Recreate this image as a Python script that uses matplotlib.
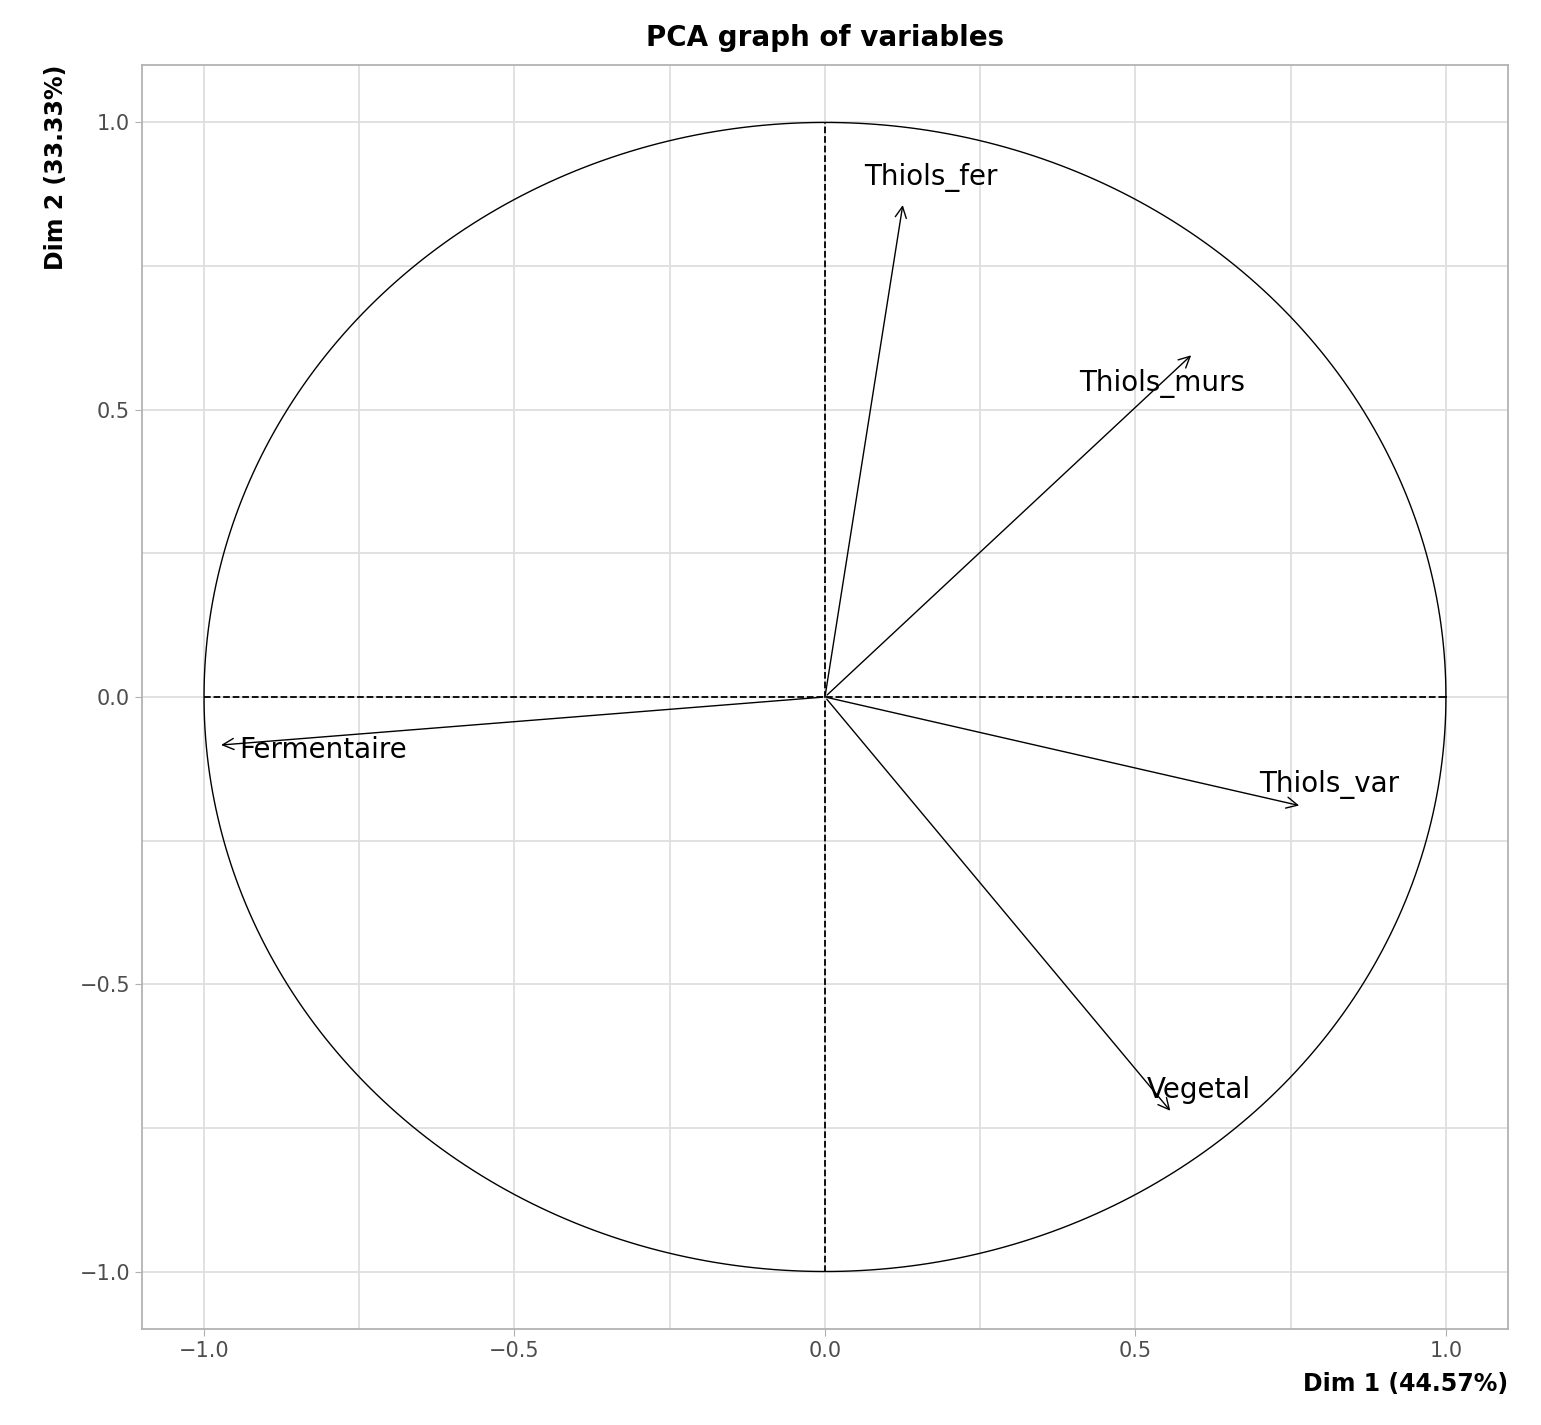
import numpy as np
import matplotlib.pyplot as plt

# variable coordinates on Dim 1 / Dim 2
variables = ["Thiols_fer", "Thiols_murs", "Thiols_var", "Vegetal", "Fermentaire"]
dim1 = [0.126, 0.593, 0.768, 0.559, -0.977]
dim2 = [0.861, 0.598, -0.190, -0.724, -0.084]
label_x = [0.171, 0.543, 0.812, 0.602, -0.808]
label_y = [0.905, 0.546, -0.152, -0.684, -0.092]

fig = plt.figure(figsize=(15.41, 14.25), dpi=100)
ax = fig.add_axes([0.0921, 0.0674, 0.8865, 0.887])

ax.set_xlim(-1.1, 1.1)
ax.set_ylim(-1.1, 1.1)
ax.set_xticks([-1.0, -0.5, 0.0, 0.5, 1.0])
ax.set_yticks([-1.0, -0.5, 0.0, 0.5, 1.0])
ax.set_xticks([-0.75, -0.25, 0.25, 0.75], minor=True)
ax.set_yticks([-0.75, -0.25, 0.25, 0.75], minor=True)
ax.grid(True, which="both", color="#dedede", linewidth=1.3)
ax.set_axisbelow(True)
ax.tick_params(which="minor", length=0)
ax.tick_params(which="major", colors="#b0b0b0", labelcolor="#4d4d4d", labelsize=15, length=5)
for s in ax.spines.values():
    s.set_color("#b3b3b3")
    s.set_linewidth(1.3)

t = np.linspace(0, 2 * np.pi, 400)
ax.plot(np.cos(t), np.sin(t), color="black", linewidth=1)
ax.plot([-1, 1], [0, 0], color="black", linestyle="--", linewidth=1.3)
ax.plot([0, 0], [-1, 1], color="black", linestyle="--", linewidth=1.3)

for name, x, y, lx, ly in zip(variables, dim1, dim2, label_x, label_y):
    ax.annotate("", xy=(x, y), xytext=(0, 0),
                arrowprops=dict(arrowstyle="->", color="black", lw=1, mutation_scale=20))
    ax.text(lx, ly, name, fontsize=20, ha="center", va="center")

ax.set_title("PCA graph of variables", fontsize=20, fontweight="bold", pad=14)
ax.set_xlabel("Dim 1 (44.57%)", fontsize=17, fontweight="bold", loc="right", labelpad=8)
ax.set_ylabel("Dim 2 (33.33%)", fontsize=17, fontweight="bold", loc="top", labelpad=8)

fig.savefig("out.png", dpi=100, facecolor="white")
